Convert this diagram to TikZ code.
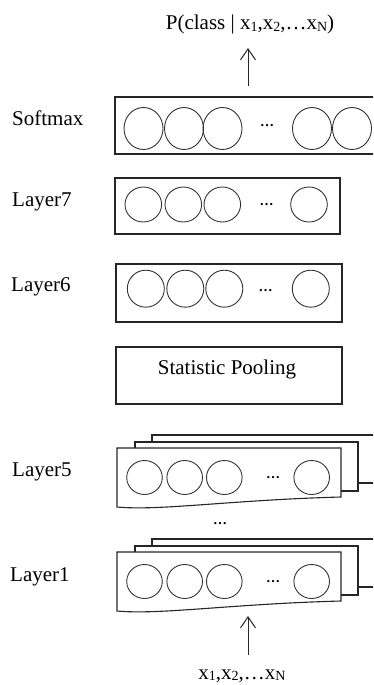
\documentclass[tikz,border=0pt]{standalone}
\usepackage{fontspec}
\setmainfont{Liberation Serif}
\usetikzlibrary{arrows.meta}
% small, slightly lowered index used in the x_i labels
\newcommand\idx[1]{\raisebox{-1.5pt}{\fontsize{14}{14}\selectfont #1}}
\begin{document}
\begin{tikzpicture}[x=1pt,y=-1pt,
  frame/.style={draw=black!85, line width=1.1pt},
  unit/.style={draw=black!80, line width=0.9pt},
  lbl/.style={anchor=base west, inner sep=0pt, font=\fontsize{21}{24}\selectfont},
  txt/.style={anchor=base, inner sep=0pt, font=\fontsize{21}{24}\selectfont},
  gap/.style={inner sep=0pt, font=\fontsize{14}{16}\selectfont\bfseries},
  flow/.style={draw=black!85, line width=1pt, -{Straight Barb[length=11pt,width=15pt]}}]
\useasboundingbox (0,0) rectangle (373,685);
\clip (0,0) rectangle (373,685);

% output distribution
\node[txt] (out) at (250,30) {P(class | x\idx{1},x\idx{2},…x\idx{N})};
\coordinate (outtip) at (248,48);
\coordinate (smtop) at (248,86);
\draw[flow] (smtop) -- (outtip);

% softmax layer
\node[frame, minimum width=290pt, minimum height=57pt, inner sep=0pt] (sm) at (260,125.5) {};
\node[lbl] (smlbl) at (12,125) {Softmax};
\foreach \cx in {143.5,184,222.5,312,352}
  \draw[unit] (\cx,128.5) ellipse (19.5 and 21);
\node[gap] (smdots) at (267,126) {…};

% layer 7
\node[frame, minimum width=225pt, minimum height=56pt, inner sep=0pt] (l7) at (227.5,206) {};
\node[lbl] (l7lbl) at (12,206) {Layer7};
\foreach \cx in {143.3,183.3,222.3,309}
  \draw[unit] (\cx,204.5) ellipse (18.3 and 17.5);
\node[gap] (l7dots) at (266.7,205) {…};

% layer 6
\node[frame, minimum width=226pt, minimum height=58pt, inner sep=0pt] (l6) at (229,293) {};
\node[lbl] (l6lbl) at (11,291.5) {Layer6};
\foreach \cx in {145.8,185.3,224.3,310.8}
  \draw[unit] (\cx,288.7) ellipse (18.5 and 18.5);
\node[gap] (l6dots) at (265.7,290.5) {…};

% statistic pooling
\node[frame, minimum width=226pt, minimum height=57pt, inner sep=0pt] (pool) at (229,375.5) {};
\node[txt] (pooltxt) at (227,374) {Statistic Pooling};

% frame-level layers drawn as stacks of sheets
\foreach \o in {0,104} {
  \draw[frame] (152,{442+\o}) -- (152,{435+\o}) -- (390,{435+\o});
  \draw[frame] (390,{483+\o}) -- (358,{483+\o});
  \draw[frame] (135,{448+\o}) -- (135,{442+\o}) -- (358,{442+\o}) -- (358,{491+\o}) -- (341,{491+\o});
  \draw[frame] (117,{448+\o}) -- (341,{448+\o}) -- (341,{497+\o})
    .. controls (230,{500+\o}) and (160,{511+\o}) .. (117,{507+\o}) -- cycle;
  \foreach \cx in {144.5,184.7,224.3,311.7}
    \draw[unit] (\cx,{477.5+\o}) ellipse (17.8 and 17);
}
\node[lbl] (l5lbl) at (12,476.7) {Layer5};
\node[gap] (l5dots) at (273,477.5) {…};
\node[lbl] (l1lbl) at (10,581.7) {Layer1};
\node[gap] (l1dots) at (273,581.5) {…};
\node[gap] (middots) at (220,524) {…};

% input frames
\node[txt] (in) at (242,679) {x\idx{1},x\idx{2},…x\idx{N}};
\coordinate (l1bot) at (248,616);
\coordinate (infoot) at (248,655);
\draw[flow] (infoot) -- (l1bot);
\end{tikzpicture}
\end{document}
